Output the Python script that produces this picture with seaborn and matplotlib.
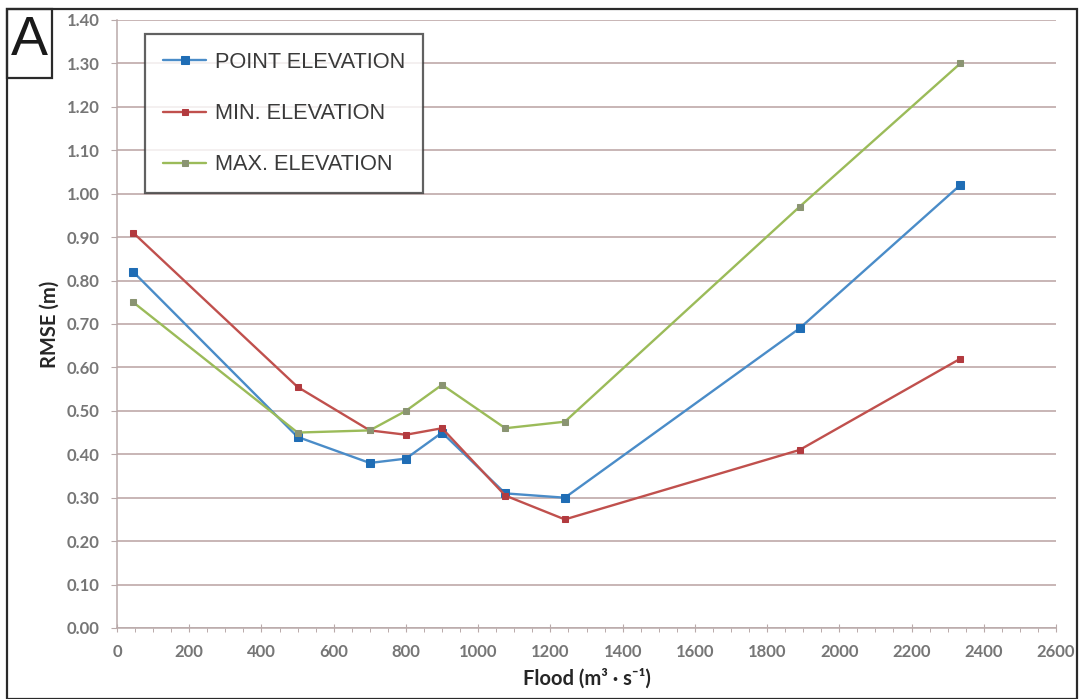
import matplotlib
matplotlib.use("Agg")
import matplotlib.pyplot as plt
from matplotlib.patches import Rectangle
from matplotlib.ticker import MultipleLocator
import seaborn as sns
import pandas as pd

# ---- data ----
flood = [45, 500, 700, 800, 900, 1075, 1240, 1890, 2335]
point_elev = [0.82, 0.44, 0.38, 0.39, 0.45, 0.31, 0.30, 0.69, 1.02]
min_elev = [0.91, 0.555, 0.455, 0.445, 0.46, 0.305, 0.25, 0.41, 0.62]
max_elev = [0.75, 0.45, 0.455, 0.50, 0.56, 0.46, 0.475, 0.97, 1.30]
series_names = ["POINT ELEVATION", "MIN. ELEVATION", "MAX. ELEVATION"]
x_ticks = list(range(0, 2601, 200))
y_ticks = [round(0.1 * i, 2) for i in range(15)]

df = pd.DataFrame({
    "flood": flood * 3,
    "rmse": point_elev + min_elev + max_elev,
    "series": [series_names[0]] * len(flood) + [series_names[1]] * len(flood) + [series_names[2]] * len(flood),
})

sns.set_theme(style="white")
plt.rcParams["font.family"] = ["Lato", "DejaVu Sans"]

fig = plt.figure(figsize=(10.8, 6.99), dpi=100)
ax = fig.add_axes([117 / 1080, 71 / 699, 939 / 1080, 608 / 699])

styles = {
    series_names[0]: dict(color="#4a8cc8", mfc="#1f6db5", mec="#1f6db5", ms=5.8),
    series_names[1]: dict(color="#c0504d", mfc="#b23a3f", mec="#b23a3f", ms=4.0),
    series_names[2]: dict(color="#9bbb59", mfc="#8a9472", mec="#8a9472", ms=4.5),
}
for name in series_names:
    st = styles[name]
    sns.lineplot(data=df[df["series"] == name], x="flood", y="rmse", ax=ax,
                 color=st["color"], marker="s", markersize=st["ms"],
                 markerfacecolor=st["mfc"], markeredgecolor=st["mec"],
                 linewidth=1.7, label=name, zorder=3)

ax.set_xlim(0, 2600)
ax.set_ylim(0, 1.40)
ax.set_xticks(x_ticks)
ax.set_yticks(y_ticks)
ax.xaxis.set_minor_locator(MultipleLocator(50))
ax.set_yticklabels([f"{v:.2f}" for v in y_ticks])
ax.set_xticklabels([str(v) for v in x_ticks])

grid_col = "#c4b0b0"
ax.yaxis.grid(True, color=grid_col, linewidth=1.3, zorder=0)
ax.xaxis.grid(False)
for s in ["top", "right"]:
    ax.spines[s].set_visible(False)
for s in ["left", "bottom"]:
    ax.spines[s].set_color("#b9aaaa")
    ax.spines[s].set_linewidth(1.1)

ax.tick_params(axis="y", which="major", direction="out", length=4, width=0.8,
               color="#b9aaaa", pad=8.5, labelsize=12, labelcolor="#767676", left=True)
ax.tick_params(axis="x", which="major", direction="inout", length=6, width=0.8,
               color="#b9aaaa", pad=8.5, labelsize=12, labelcolor="#767676", bottom=True)
ax.tick_params(axis="x", which="minor", direction="out", length=3, width=0.7,
               color="#b9aaaa", bottom=True)
for lab in ax.get_xticklabels() + ax.get_yticklabels():
    lab.set_fontweight("bold")

ax.set_xlabel("Flood (m³ · s⁻¹)", fontsize=14.5, fontweight="bold", color="#262626")
ax.set_ylabel("RMSE (m)", fontsize=14.5, fontweight="bold", color="#262626")
ax.xaxis.set_label_coords(0.5, -0.066)
ax.yaxis.set_label_coords(-0.061, 0.5)

leg = ax.legend(loc="upper left", bbox_to_anchor=(145 / 1080, 1 - 34 / 699),
                bbox_transform=fig.transFigure, borderaxespad=0,
                frameon=True, fancybox=False, edgecolor="#3a3a3a",
                prop={"family": ["Liberation Sans"], "size": 15.7},
                labelspacing=1.38, handlelength=1.97, handletextpad=0.41,
                borderpad=0.83)
leg.get_frame().set_linewidth(1.6)
for t in leg.get_texts():
    t.set_color("#3a3a3a")

# figure frame and panel label
fig.patches.append(Rectangle((7 / 1080, 0), (1077 - 7) / 1080, (699 - 9) / 699,
                             transform=fig.transFigure, fill=False,
                             edgecolor="#2a2a2a", linewidth=1.6))
fig.patches.append(Rectangle((7 / 1080, 1 - 78 / 699), (52 - 7) / 1080, (78 - 9) / 699,
                             transform=fig.transFigure, fill=False,
                             edgecolor="#2a2a2a", linewidth=1.6))
fig.text(29 / 1080, 1 - 41 / 699, "A", ha="center", va="center", fontsize=40,
         family=["Liberation Sans"], color="#1a1a1a")

fig.savefig("out.png", dpi=100)
